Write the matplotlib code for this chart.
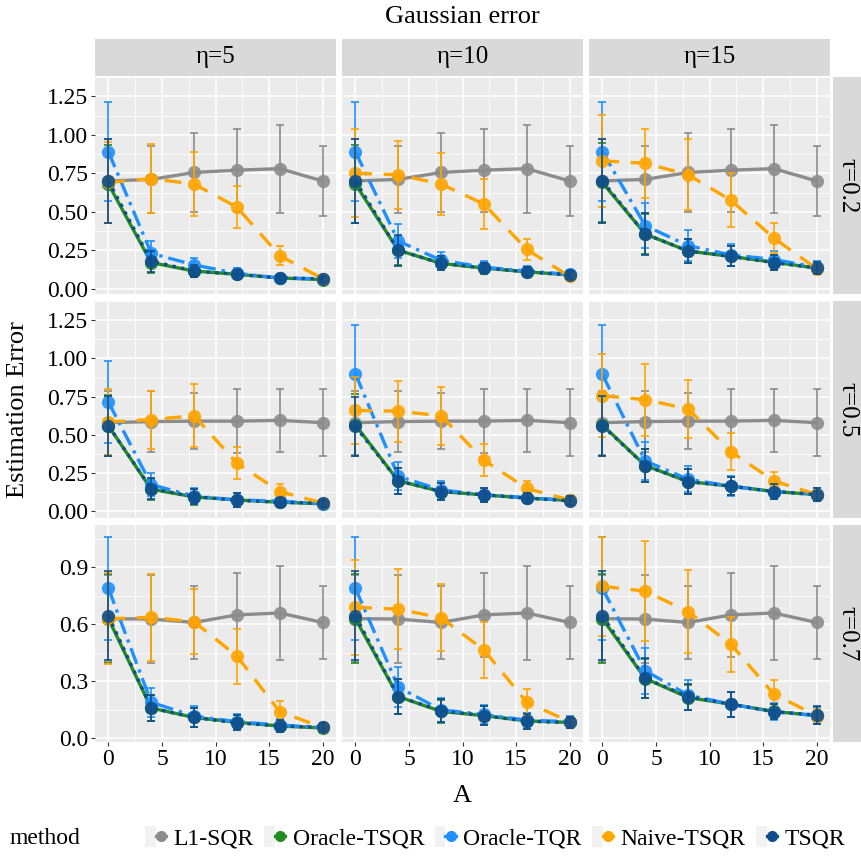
"""
Estimation error vs A for five methods, faceted by tau (rows) and eta (columns).
"""

import matplotlib
matplotlib.use('Agg')
import matplotlib.pyplot as plt
from matplotlib.lines import Line2D
from matplotlib.patches import Rectangle
from matplotlib.legend_handler import HandlerTuple

plt.rcParams['font.family'] = ['Liberation Serif', 'DejaVu Serif']

# -------------------------------
# DATA (mean and sd of the estimation error)
# -------------------------------

A_VALUES = [0, 4, 8, 12, 16, 20]
ETA_LABELS = ['η=5', 'η=10', 'η=15']
TAU_LABELS = ['τ=0.2', 'τ=0.5', 'τ=0.7']
METHODS = ['L1-SQR', 'Oracle-TSQR', 'Oracle-TQR', 'Naive-TSQR', 'TSQR']

# L1-SQR only uses the target sample, so it is the same for every eta
l1_mean = [
    [0.70, 0.71, 0.755, 0.77, 0.78, 0.70],
    [0.58, 0.587, 0.59, 0.59, 0.595, 0.58],
    [0.63, 0.628, 0.61, 0.65, 0.66, 0.61],
]
l1_sd = [
    [0.27, 0.22, 0.255, 0.27, 0.285, 0.23],
    [0.21, 0.20, 0.185, 0.21, 0.205, 0.22],
    [0.23, 0.233, 0.19, 0.22, 0.245, 0.19],
]

# the rest: one list per panel, rows = tau, columns = eta
oracle_tsqr_mean = [
    [[0.68, 0.17, 0.115, 0.094, 0.07, 0.06],
     [0.68, 0.25, 0.165, 0.134, 0.11, 0.09],
     [0.69, 0.355, 0.245, 0.21, 0.172, 0.135]],
    [[0.56, 0.145, 0.095, 0.075, 0.06, 0.05],
     [0.565, 0.20, 0.13, 0.108, 0.087, 0.072],
     [0.565, 0.30, 0.195, 0.165, 0.13, 0.11]],
    [[0.63, 0.16, 0.11, 0.085, 0.065, 0.055],
     [0.63, 0.22, 0.142, 0.12, 0.092, 0.084],
     [0.63, 0.315, 0.215, 0.18, 0.142, 0.12]],
]
oracle_tsqr_sd = [
    [[0.255, 0.065, 0.04, 0.03, 0.022, 0.018],
     [0.255, 0.095, 0.045, 0.035, 0.03, 0.025],
     [0.255, 0.13, 0.08, 0.065, 0.05, 0.04]],
    [[0.20, 0.07, 0.05, 0.045, 0.03, 0.022],
     [0.20, 0.085, 0.055, 0.045, 0.035, 0.028],
     [0.20, 0.11, 0.08, 0.06, 0.05, 0.04]],
    [[0.235, 0.07, 0.05, 0.04, 0.03, 0.025],
     [0.235, 0.09, 0.06, 0.05, 0.04, 0.03],
     [0.235, 0.105, 0.068, 0.065, 0.04, 0.045]],
]

oracle_tqr_mean = [
    [[0.89, 0.23, 0.155, 0.10, 0.07, 0.065],
     [0.89, 0.31, 0.185, 0.14, 0.115, 0.094],
     [0.89, 0.41, 0.28, 0.22, 0.19, 0.14]],
    [[0.715, 0.175, 0.10, 0.075, 0.067, 0.05],
     [0.90, 0.23, 0.14, 0.11, 0.09, 0.072],
     [0.895, 0.33, 0.21, 0.165, 0.13, 0.115]],
    [[0.79, 0.19, 0.117, 0.088, 0.07, 0.058],
     [0.79, 0.27, 0.15, 0.126, 0.096, 0.088],
     [0.79, 0.356, 0.228, 0.18, 0.14, 0.12]],
]
oracle_tqr_sd = [
    [[0.32, 0.08, 0.045, 0.035, 0.025, 0.02],
     [0.32, 0.11, 0.055, 0.04, 0.032, 0.027],
     [0.32, 0.145, 0.10, 0.07, 0.055, 0.042]],
    [[0.27, 0.075, 0.05, 0.045, 0.032, 0.022],
     [0.32, 0.09, 0.06, 0.045, 0.037, 0.028],
     [0.32, 0.125, 0.085, 0.065, 0.05, 0.04]],
    [[0.27, 0.075, 0.055, 0.04, 0.03, 0.025],
     [0.27, 0.105, 0.065, 0.05, 0.04, 0.03],
     [0.27, 0.12, 0.08, 0.065, 0.045, 0.045]],
]

naive_tsqr_mean = [
    [[0.69, 0.715, 0.68, 0.53, 0.215, 0.066],
     [0.75, 0.74, 0.68, 0.55, 0.255, 0.08],
     [0.83, 0.815, 0.74, 0.575, 0.33, 0.13]],
    [[0.585, 0.60, 0.625, 0.315, 0.13, 0.055],
     [0.66, 0.655, 0.625, 0.335, 0.15, 0.075],
     [0.757, 0.73, 0.67, 0.39, 0.20, 0.11]],
    [[0.63, 0.637, 0.614, 0.433, 0.14, 0.058],
     [0.69, 0.68, 0.635, 0.465, 0.19, 0.088],
     [0.80, 0.775, 0.667, 0.495, 0.233, 0.12]],
]
naive_tsqr_sd = [
    [[0.265, 0.225, 0.21, 0.135, 0.063, 0.02],
     [0.285, 0.22, 0.20, 0.16, 0.068, 0.025],
     [0.30, 0.225, 0.23, 0.175, 0.10, 0.03]],
    [[0.215, 0.19, 0.205, 0.105, 0.05, 0.02],
     [0.22, 0.20, 0.19, 0.105, 0.05, 0.025],
     [0.27, 0.235, 0.19, 0.12, 0.06, 0.03]],
    [[0.24, 0.23, 0.17, 0.145, 0.056, 0.02],
     [0.25, 0.21, 0.175, 0.145, 0.07, 0.025],
     [0.26, 0.265, 0.22, 0.145, 0.074, 0.035]],
]

tsqr_mean = [
    [[0.70, 0.18, 0.115, 0.094, 0.07, 0.064],
     [0.70, 0.25, 0.165, 0.135, 0.11, 0.09],
     [0.70, 0.355, 0.245, 0.21, 0.17, 0.135]],
    [[0.56, 0.148, 0.097, 0.073, 0.06, 0.053],
     [0.555, 0.20, 0.13, 0.108, 0.087, 0.07],
     [0.56, 0.30, 0.195, 0.165, 0.13, 0.11]],
    [[0.645, 0.16, 0.11, 0.082, 0.065, 0.058],
     [0.645, 0.22, 0.145, 0.12, 0.09, 0.084],
     [0.645, 0.316, 0.22, 0.18, 0.14, 0.123]],
]
tsqr_sd = [
    [[0.27, 0.068, 0.04, 0.03, 0.022, 0.018],
     [0.27, 0.10, 0.045, 0.035, 0.03, 0.025],
     [0.27, 0.135, 0.08, 0.065, 0.05, 0.04]],
    [[0.195, 0.07, 0.05, 0.045, 0.03, 0.022],
     [0.195, 0.085, 0.055, 0.045, 0.035, 0.028],
     [0.195, 0.11, 0.08, 0.06, 0.05, 0.04]],
    [[0.235, 0.07, 0.05, 0.04, 0.03, 0.025],
     [0.235, 0.09, 0.06, 0.05, 0.04, 0.03],
     [0.235, 0.105, 0.068, 0.065, 0.04, 0.045]],
]

# -------------------------------
# STYLE
# -------------------------------

COLORS = {
    'L1-SQR': '#8C8C8C',
    'Oracle-TSQR': '#228B22',
    'Oracle-TQR': '#1E90FF',
    'Naive-TSQR': '#FFA500',
    'TSQR': '#104E8B',
}
DASHES = {
    'L1-SQR': None,
    'Oracle-TSQR': None,
    'Oracle-TQR': (5, 1.8, 1, 1.8),
    'Naive-TSQR': (5, 3.5),
    'TSQR': (1, 1.6),
}

W, H = 862, 857
COL_LEFT = [95, 342, 589]
COL_W = 241
ROW_TOP = [77, 301, 525]
ROW_H = 217
YLIMS = [(-0.034, 1.264), (-0.043, 1.279), (-0.019, 1.123)]
YTICKS = [[0, 0.25, 0.5, 0.75, 1.0, 1.25],
          [0, 0.25, 0.5, 0.75, 1.0, 1.25],
          [0, 0.3, 0.6, 0.9]]
PANEL_BG = '#EBEBEB'
STRIP_BG = '#D9D9D9'


def rect(left, top, width, height):
    return [left / W, 1 - (top + height) / H, width / W, height / H]


def panel_series(r, c):
    return {
        'L1-SQR': (l1_mean[r], l1_sd[r]),
        'Oracle-TSQR': (oracle_tsqr_mean[r][c], oracle_tsqr_sd[r][c]),
        'Oracle-TQR': (oracle_tqr_mean[r][c], oracle_tqr_sd[r][c]),
        'Naive-TSQR': (naive_tsqr_mean[r][c], naive_tsqr_sd[r][c]),
        'TSQR': (tsqr_mean[r][c], tsqr_sd[r][c]),
    }


def style_panel(ax, r, c):
    ax.set_facecolor(PANEL_BG)
    for s in ax.spines.values():
        s.set_visible(False)
    ax.set_xlim(-1.25, 21.25)
    ax.set_ylim(*YLIMS[r])
    ax.set_xticks([0, 5, 10, 15, 20])
    ax.set_xticks([2.5, 7.5, 12.5, 17.5], minor=True)
    yt = YTICKS[r]
    step = yt[1] - yt[0]
    ax.set_yticks(yt)
    ax.set_yticks([v + step / 2 for v in yt], minor=True)
    ax.grid(which='major', color='white', lw=1.1)
    ax.grid(which='minor', color='white', lw=0.55)
    ax.set_axisbelow(True)
    ax.tick_params(which='minor', length=0)
    ax.tick_params(which='major', length=3, width=0.8, color='#333333',
                   labelsize=17, pad=2, labelcolor='black')
    if r == 2:
        ax.set_xticklabels(['0', '5', '10', '15', '20'])
    else:
        ax.tick_params(axis='x', length=0, labelbottom=False)
    if c == 0:
        ax.set_yticklabels([f'{v:.2f}' if r < 2 else f'{v:.1f}' for v in yt])
    else:
        ax.tick_params(axis='y', length=0, labelleft=False)


fig = plt.figure(figsize=(W / 100, H / 100), dpi=100)

for r in range(3):
    for c in range(3):
        ax = fig.add_axes(rect(COL_LEFT[c], ROW_TOP[r], COL_W, ROW_H))
        style_panel(ax, r, c)
        series = panel_series(r, c)
        for k, m in enumerate(METHODS):
            mean, sd = series[m]
            col = COLORS[m]
            z = 3 + k
            ax.errorbar(A_VALUES, mean, yerr=sd, fmt='none', ecolor=col,
                        elinewidth=1.2, capsize=2.6, capthick=1.2, zorder=z)
            line, = ax.plot(A_VALUES, mean, color=col, lw=2.4, zorder=z,
                            solid_capstyle='butt', dash_capstyle='butt')
            if DASHES[m] is not None:
                line.set_dashes(DASHES[m])
            ax.plot(A_VALUES, mean, 'o', color=col, ms=9.5, mew=0,
                    alpha=0.9, zorder=z)

# strips on top (eta) and right (tau)
for c in range(3):
    sax = fig.add_axes(rect(COL_LEFT[c], 39, COL_W, 37))
    sax.set_facecolor(STRIP_BG)
    sax.set_xticks([])
    sax.set_yticks([])
    for s in sax.spines.values():
        s.set_visible(False)
    sax.text(0.5, 0.5, ETA_LABELS[c], ha='center', va='center', fontsize=18,
             transform=sax.transAxes)

for r in range(3):
    sax = fig.add_axes(rect(833, ROW_TOP[r], 40, ROW_H))
    sax.set_facecolor(STRIP_BG)
    sax.set_xticks([])
    sax.set_yticks([])
    for s in sax.spines.values():
        s.set_visible(False)
    fig.text(847 / W, 1 - (ROW_TOP[r] + ROW_H / 2) / H, TAU_LABELS[r],
             ha='center', va='center', fontsize=18, rotation=270)

# titles
mid_x = (COL_LEFT[0] + COL_LEFT[2] + COL_W) / 2 / W
fig.text(mid_x, 1 - 17 / H, 'Gaussian error', ha='center', va='center', fontsize=19)
fig.text(mid_x, 1 - 796 / H, 'A', ha='center', va='center', fontsize=19)
fig.text(18 / W, 1 - 410 / H, 'Estimation Error', ha='center', va='center',
         fontsize=19, rotation=90)

# legend
handles = []
for m in METHODS:
    bg = Rectangle((0, 0), 1, 1, facecolor='#F2F2F2', edgecolor='none')
    key = Line2D([], [], color=COLORS[m], marker='o', ms=7, lw=2.3)
    handles.append((bg, key))
fig.text(10 / W, 1 - 838 / H, 'method', ha='left', va='center', fontsize=17)
fig.legend(handles, METHODS, handler_map={tuple: HandlerTuple(ndivide=None, pad=0)},
           loc='center left', bbox_to_anchor=(145 / W, 1 - 838 / H), ncol=5,
           frameon=False, fontsize=17, handlelength=0.9, handleheight=1.0,
           handletextpad=0.3, columnspacing=0.45, borderaxespad=0, borderpad=0)

fig.savefig('out.png', dpi=100)
